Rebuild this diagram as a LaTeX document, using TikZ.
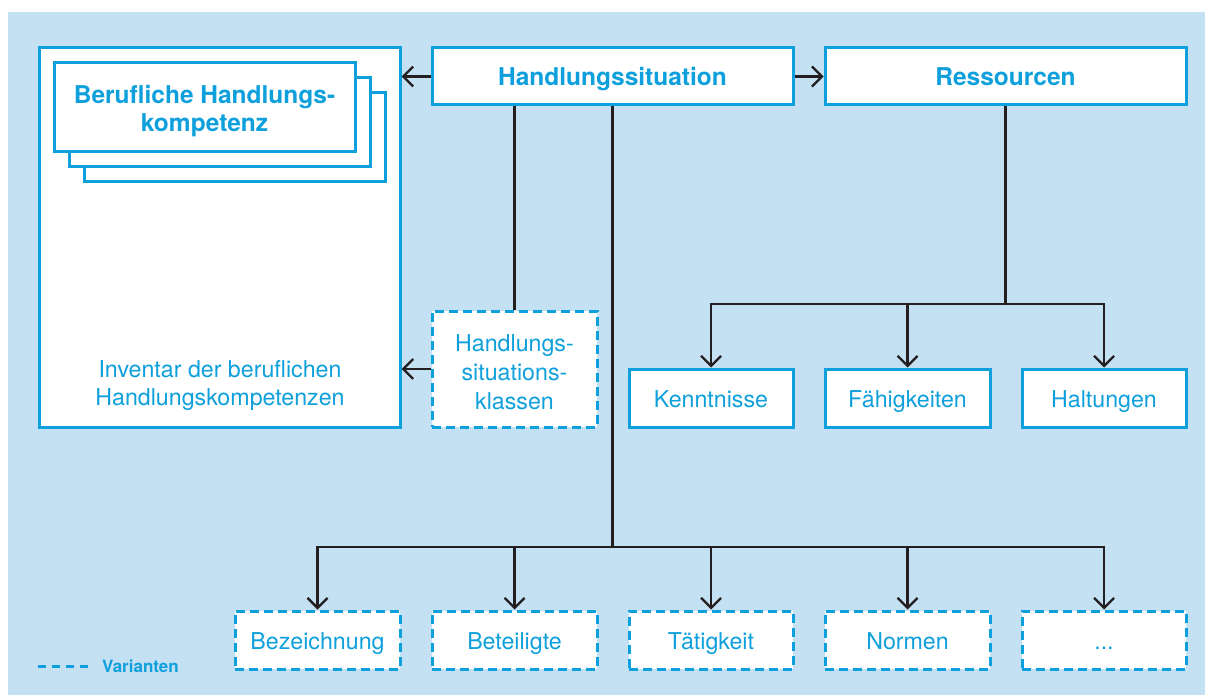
\documentclass[tikz,border=0pt]{standalone}
\usepackage{fontspec}
\setmainfont{TeX Gyre Heros}
\usetikzlibrary{arrows.meta}
\definecolor{bg}{RGB}{196,224,243}
\definecolor{cy}{RGB}{14,160,220}
\definecolor{ln}{RGB}{35,31,32}
\tikzset{
 box/.style={draw=cy, line width=3pt, fill=white, text=cy, inner sep=0pt, align=center, font=\fontsize{23.2}{29}\selectfont},
 dashbox/.style={box, dash pattern=on 9pt off 5pt},
 titlebox/.style={box, font=\fontsize{24.5}{28.5}\selectfont\bfseries},
 one/.style={text height=19.5pt, text depth=0pt},
 onebold/.style={text height=18pt, text depth=0pt},
 plaintext/.style={text=cy, align=center, inner sep=0pt, font=\fontsize{23.2}{28}\selectfont},
 conn/.style={draw=ln, line width=2.3pt},
 arr/.style={conn, -{Straight Barb[length=10pt,width=20pt]}},
}
\begin{document}
\begin{tikzpicture}[x=1pt,y=-1pt]
\useasboundingbox (0,0) rectangle (1205,695);
\fill[bg] (8,12) rectangle (1205,695);

% left inventory box
\node[box, minimum width=361pt, minimum height=379pt] (inv) at (219.5,237.5) {};
\node[plaintext] (invtext) at (220,386) {Inventar der beruflichen\\Handlungskompetenzen};
\node[box, minimum width=301pt, minimum height=89pt] (stack3) at (234.5,137.5) {};
\node[box, minimum width=301pt, minimum height=89pt] (stack2) at (219.5,122.5) {};
\node[titlebox, minimum width=301pt, minimum height=89pt] (stack1) at (204.5,107.5) {};
\node[text=cy, align=center, inner sep=0pt, font=\fontsize{24.5}{28.5}\selectfont\bfseries] (stacktext) at (204.5,111) {Berufliche Handlungs-\\kompetenz};

% top boxes
\node[titlebox, onebold, minimum width=361pt, minimum height=57pt] (hs) at (612.5,76.5) {Handlungssituation};
\node[titlebox, onebold, minimum width=361pt, minimum height=57pt] (res) at (1005.5,76.5) {Ressourcen};

% situation classes
\node[dashbox, minimum width=165pt, minimum height=116pt] (hsk) at (514.5,369) {};
\node[plaintext, font=\fontsize{23.2}{29}\selectfont] (hsktext) at (514.5,372) {Handlungs-\\situations-\\klassen};

% resources
\node[box, one, minimum width=164pt, minimum height=58pt] (ken) at (711,398) {Kenntnisse};
\node[box, one, minimum width=165pt, minimum height=58pt] (fae) at (907.5,398) {Fähigkeiten};
\node[box, one, minimum width=164pt, minimum height=58pt] (hal) at (1104,398) {Haltungen};

% variants
\node[dashbox, one, minimum width=165pt, minimum height=58pt] (b1) at (317.5,640) {Bezeichnung};
\node[dashbox, one, minimum width=165pt, minimum height=58pt] (b2) at (514.5,640) {Beteiligte};
\node[dashbox, one, minimum width=164pt, minimum height=58pt] (b3) at (711,640) {Tätigkeit};
\node[dashbox, one, minimum width=165pt, minimum height=58pt] (b4) at (907.5,640) {Normen};
\node[dashbox, one, minimum width=164pt, minimum height=58pt] (b5) at (1104,640) {...};

% connectors
\draw[arr] (hs.west) -- (hs.west -| inv.east);
\draw[arr] (hs.east) -- (res.west);
\draw[arr] (hsk.west) -- (hsk.west -| inv.east);
\draw[conn] (hsk.north) -- (hsk.north |- hs.south);

\coordinate (jr) at (1005.5,304);
\draw[conn] (res.south) -- (jr);
\draw[arr] (jr) -| (ken.north);
\draw[arr] (jr) -| (fae.north);
\draw[arr] (jr) -| (hal.north);

\coordinate (jb) at (612.5,547);
\draw[conn] (hs.south) -- (jb);
\draw[arr] (jb) -| (b1.north);
\draw[arr] (jb) -| (b2.north);
\draw[arr] (jb) -| (b3.north);
\draw[arr] (jb) -| (b4.north);
\draw[arr] (jb) -| (b5.north);

% legend
\coordinate (l1) at (38,666);
\coordinate (l2) at (91,666);
\draw[draw=cy, line width=3pt, dash pattern=on 8pt off 6pt] (l1) -- (l2);
\node[anchor=west, text=cy, inner sep=0pt, font=\fontsize{17}{19}\selectfont\bfseries] (leg) at (102,666) {Varianten};
\end{tikzpicture}
\end{document}
